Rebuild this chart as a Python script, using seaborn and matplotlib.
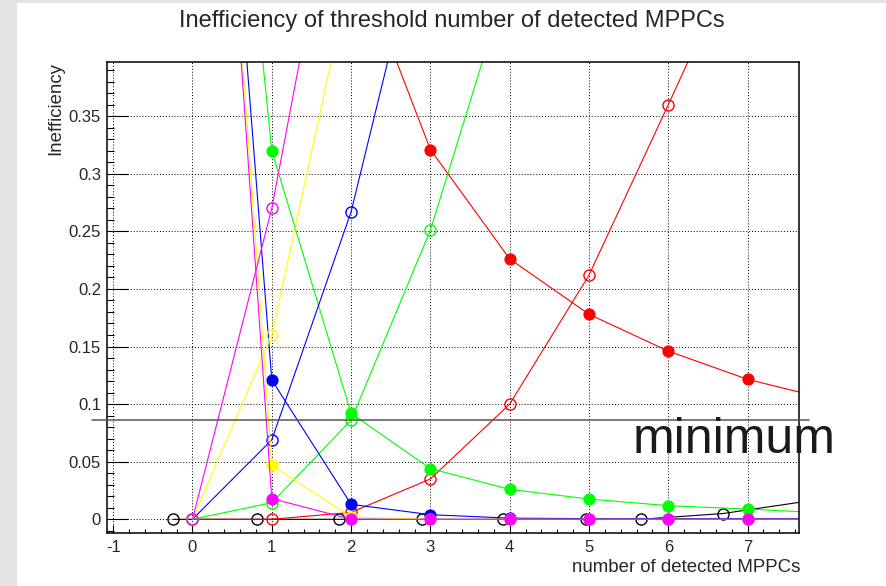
import matplotlib
matplotlib.use("Agg")
import matplotlib.pyplot as plt
from matplotlib.patches import Rectangle
from matplotlib.ticker import MultipleLocator, FuncFormatter
import numpy as np
import pandas as pd
import seaborn as sns

# ---- data: inefficiency vs. threshold on the number of detected MPPCs ----
# filled markers: inefficiency falling with the threshold
# open markers: inefficiency rising with the threshold
red_fill_x = [2, 3, 4, 5, 6, 7, 8]
red_fill_y = [0.50, 0.321, 0.226, 0.178, 0.146, 0.1215, 0.1045]
red_open_x = [0, 1, 2, 3, 4, 5, 6, 7]
red_open_y = [0.0, 0.0, 0.006, 0.035, 0.100, 0.212, 0.360, 0.51]

green_fill_x = [0, 1, 2, 3, 4, 5, 6, 7, 8]
green_fill_y = [1.0, 0.320, 0.092, 0.044, 0.026, 0.0176, 0.0118, 0.0089, 0.0054]
green_open_x = [0, 1, 2, 3, 4]
green_open_y = [0.0, 0.0144, 0.086, 0.251, 0.474]

blue_fill_x = [0, 1, 2, 3, 4, 5, 6, 7, 8]
blue_fill_y = [1.0, 0.121, 0.013, 0.004, 0.001, 0.0006, 0.0006, 0.0006, 0.0006]
blue_open_x = [0, 1, 2, 3]
blue_open_y = [0.0, 0.069, 0.267, 0.549]

yellow_fill_x = [0, 1, 2, 3, 4, 5, 6, 7, 8]
yellow_fill_y = [1.0, 0.047, 0.002, 0.0, 0.0, 0.0, 0.0, 0.0, 0.0]
yellow_open_x = [0, 1, 2]
yellow_open_y = [0.0, 0.160, 0.477]

magenta_fill_x = [0, 1, 2, 3, 4, 5, 6, 7, 8]
magenta_fill_y = [1.0, 0.018, 0.0, 0.0, 0.0, 0.0, 0.0, 0.0, 0.0]
magenta_open_x = [0, 1, 2]
magenta_open_y = [0.0, 0.270, 0.634]

black_open_x = [-0.24, 0.81, 1.85, 2.89, 3.92, 4.96, 5.65, 6.69, 7.73]
black_open_y = [0.0, 0.0, 0.0, 0.0, 0.0, 0.0, 0.0, 0.005, 0.0155]

minimum_level = 0.0862

title = "Inefficiency of threshold number of detected MPPCs"
x_title = "number of detected MPPCs"
y_title = "Inefficiency"

# ---- style ----
sns.set_style("ticks")
plt.rcParams["font.family"] = ["Liberation Sans", "DejaVu Sans"]
plt.rcParams["axes.unicode_minus"] = False

W, H = 886, 586
fig = plt.figure(figsize=(W / 100, H / 100), dpi=100)
fig.patch.set_facecolor("#e3e3e3")
fig.add_artist(Rectangle((17 / W, 0), 1 - 17 / W, 1 - 3 / H,
                         transform=fig.transFigure, facecolor="white",
                         edgecolor="none", zorder=-10))

ax = fig.add_axes([107 / W, 1 - 533 / H, (799 - 107) / W, (533 - 62) / H])
ax.set_facecolor("white")

series = [
    ("black", None, None, black_open_x, black_open_y),
    ("#ff0000", red_fill_x, red_fill_y, red_open_x, red_open_y),
    ("#00ff00", green_fill_x, green_fill_y, green_open_x, green_open_y),
    ("#0000ff", blue_fill_x, blue_fill_y, blue_open_x, blue_open_y),
    ("#ffff00", yellow_fill_x, yellow_fill_y, yellow_open_x, yellow_open_y),
    ("#ff00ff", magenta_fill_x, magenta_fill_y, magenta_open_x, magenta_open_y),
]

for color, fx, fy, ox, oy in series:
    if fx is not None:
        df = pd.DataFrame({"threshold": fx, "inefficiency": fy})
        sns.lineplot(data=df, x="threshold", y="inefficiency", ax=ax,
                     estimator=None, sort=False, color=color, linewidth=0.8,
                     marker="o", markersize=8, markerfacecolor=color,
                     markeredgecolor=color, markeredgewidth=0.8)
    df = pd.DataFrame({"threshold": ox, "inefficiency": oy})
    sns.lineplot(data=df, x="threshold", y="inefficiency", ax=ax,
                 estimator=None, sort=False, color=color, linewidth=0.8,
                 marker="o", markersize=8, markerfacecolor="none",
                 markeredgecolor=color, markeredgewidth=1.0)

# minimum marker line and label
ax.plot([-1.267, 7.774], [minimum_level, minimum_level], color="#555555",
        linewidth=1.1, clip_on=False, zorder=5)
ax.text(5.555, 0.0575, "minimum", fontsize=36, color="#1a1a1a",
        ha="left", va="baseline", clip_on=False, zorder=6)

# ---- axes ----
ax.set_xlim(-1.078, 7.648)
ax.set_ylim(-0.0119, 0.397)
ax.set_xlabel("")
ax.set_ylabel("")

ax.xaxis.set_major_locator(MultipleLocator(1))
ax.xaxis.set_minor_locator(MultipleLocator(0.2))
ax.yaxis.set_major_locator(MultipleLocator(0.05))
ax.yaxis.set_minor_locator(MultipleLocator(0.01))
fmt = FuncFormatter(lambda v, p: "0" if abs(v) < 1e-9 else f"{v:g}")
ax.xaxis.set_major_formatter(fmt)
ax.yaxis.set_major_formatter(fmt)

ax.tick_params(which="both", direction="in", top=False, right=False,
               color="black", width=0.8, labelsize=12)
ax.tick_params(axis="y", which="major", length=15, pad=4.3)
ax.tick_params(axis="y", which="minor", length=5)
ax.tick_params(axis="x", which="major", length=5.8, pad=5)
ax.tick_params(axis="x", which="minor", length=3.2)

ax.set_axisbelow(True)
ax.grid(True, which="major", color="black", linestyle=(0, (1, 2)),
        linewidth=0.7)
for s in ax.spines.values():
    s.set_visible(True)
    s.set_color("black")
    s.set_linewidth(1.1)

fig.text(452 / W, 1 - 21 / H, title, ha="center", va="center", fontsize=17)
fig.text(800 / W, 1 - 567 / H, x_title, ha="right", va="center", fontsize=13.4)
fig.text(56 / W, 1 - 62 / H, y_title, rotation=90, ha="center", va="top",
         fontsize=13.4)

fig.savefig("out.png", dpi=100)
